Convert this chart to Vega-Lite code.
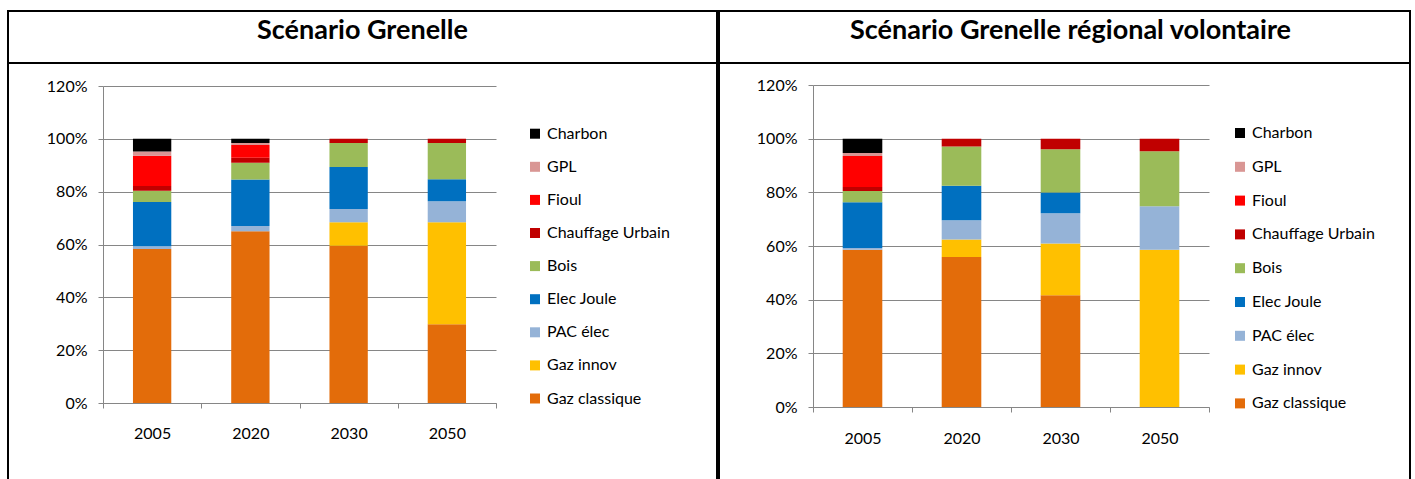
{
  "$schema": "https://vega.github.io/schema/vega-lite/v6.json",
  "padding": {"left": 7, "top": 10, "right": 0, "bottom": 0},
  "background": "white",
  "datasets": {
    "grenelle": [
      {"annee": "2005", "energie": "Gaz classique", "ordre": 1, "part": 58.3},
      {"annee": "2005", "energie": "PAC élec", "ordre": 3, "part": 1.0},
      {"annee": "2005", "energie": "Elec Joule", "ordre": 4, "part": 16.8},
      {"annee": "2005", "energie": "Bois", "ordre": 5, "part": 4.2},
      {"annee": "2005", "energie": "Chauffage Urbain", "ordre": 6, "part": 1.8},
      {"annee": "2005", "energie": "Fioul", "ordre": 7, "part": 11.5},
      {"annee": "2005", "energie": "GPL", "ordre": 8, "part": 1.6},
      {"annee": "2005", "energie": "Charbon", "ordre": 9, "part": 4.8},
      {"annee": "2020", "energie": "Gaz classique", "ordre": 1, "part": 65.0},
      {"annee": "2020", "energie": "PAC élec", "ordre": 3, "part": 2.0},
      {"annee": "2020", "energie": "Elec Joule", "ordre": 4, "part": 17.6},
      {"annee": "2020", "energie": "Bois", "ordre": 5, "part": 6.3},
      {"annee": "2020", "energie": "Chauffage Urbain", "ordre": 6, "part": 1.9},
      {"annee": "2020", "energie": "Fioul", "ordre": 7, "part": 4.9},
      {"annee": "2020", "energie": "GPL", "ordre": 8, "part": 0.7},
      {"annee": "2020", "energie": "Charbon", "ordre": 9, "part": 1.6},
      {"annee": "2030", "energie": "Gaz classique", "ordre": 1, "part": 59.5},
      {"annee": "2030", "energie": "Gaz innov", "ordre": 2, "part": 8.9},
      {"annee": "2030", "energie": "PAC élec", "ordre": 3, "part": 5.0},
      {"annee": "2030", "energie": "Elec Joule", "ordre": 4, "part": 15.9},
      {"annee": "2030", "energie": "Bois", "ordre": 5, "part": 9.1},
      {"annee": "2030", "energie": "Chauffage Urbain", "ordre": 6, "part": 1.6},
      {"annee": "2050", "energie": "Gaz classique", "ordre": 1, "part": 29.8},
      {"annee": "2050", "energie": "Gaz innov", "ordre": 2, "part": 38.6},
      {"annee": "2050", "energie": "PAC élec", "ordre": 3, "part": 8.0},
      {"annee": "2050", "energie": "Elec Joule", "ordre": 4, "part": 8.3},
      {"annee": "2050", "energie": "Bois", "ordre": 5, "part": 13.7},
      {"annee": "2050", "energie": "Chauffage Urbain", "ordre": 6, "part": 1.6}
    ],
    "regional": [
      {"annee": "2005", "energie": "Gaz classique", "ordre": 1, "part": 58.6},
      {"annee": "2005", "energie": "PAC élec", "ordre": 3, "part": 0.7},
      {"annee": "2005", "energie": "Elec Joule", "ordre": 4, "part": 17.0},
      {"annee": "2005", "energie": "Bois", "ordre": 5, "part": 4.2},
      {"annee": "2005", "energie": "Chauffage Urbain", "ordre": 6, "part": 1.5},
      {"annee": "2005", "energie": "Fioul", "ordre": 7, "part": 11.5},
      {"annee": "2005", "energie": "GPL", "ordre": 8, "part": 1.2},
      {"annee": "2005", "energie": "Charbon", "ordre": 9, "part": 5.3},
      {"annee": "2020", "energie": "Gaz classique", "ordre": 1, "part": 55.9},
      {"annee": "2020", "energie": "Gaz innov", "ordre": 2, "part": 6.5},
      {"annee": "2020", "energie": "PAC élec", "ordre": 3, "part": 7.2},
      {"annee": "2020", "energie": "Elec Joule", "ordre": 4, "part": 12.9},
      {"annee": "2020", "energie": "Bois", "ordre": 5, "part": 14.6},
      {"annee": "2020", "energie": "Chauffage Urbain", "ordre": 6, "part": 2.9},
      {"annee": "2030", "energie": "Gaz classique", "ordre": 1, "part": 41.6},
      {"annee": "2030", "energie": "Gaz innov", "ordre": 2, "part": 19.3},
      {"annee": "2030", "energie": "PAC élec", "ordre": 3, "part": 11.3},
      {"annee": "2030", "energie": "Elec Joule", "ordre": 4, "part": 7.7},
      {"annee": "2030", "energie": "Bois", "ordre": 5, "part": 16.2},
      {"annee": "2030", "energie": "Chauffage Urbain", "ordre": 6, "part": 3.9},
      {"annee": "2050", "energie": "Gaz innov", "ordre": 2, "part": 58.6},
      {"annee": "2050", "energie": "PAC élec", "ordre": 3, "part": 16.2},
      {"annee": "2050", "energie": "Bois", "ordre": 5, "part": 20.5},
      {"annee": "2050", "energie": "Chauffage Urbain", "ordre": 6, "part": 4.7}
    ],
    "titres": [
      {"colonne": "gauche", "titre": "Scénario Grenelle"},
      {"colonne": "droite", "titre": "Scénario Grenelle régional volontaire"}
    ]
  },
  "hconcat": [
    {
      "spacing": 0,
      "bounds": "flush",
      "vconcat": [
        {
          "width": 709, "height": 52,
          "view": {"stroke": "black", "strokeWidth": 2},
          "data": {"name": "titres"},
          "transform": [{"filter": "datum.colonne === 'gauche'"}],
          "mark": {"type": "text", "font": "Lato", "fontWeight": "bold", "fontSize": 27, "baseline": "alphabetic", "dy": 2, "color": "black"},
          "encoding": {
            "x": {"field": "titre", "type": "nominal", "axis": null},
            "text": {"field": "titre", "type": "nominal"}
          }
        },
        {
          "width": 709, "height": 420,
          "data": {"name": "grenelle"},
          "mark": {"type": "bar", "width": {"band": 0.39}},
          "encoding": {
            "x": {"field": "annee", "type": "nominal", "sort": null,
              "scale": {"range": [95, 488], "paddingInner": 0, "paddingOuter": 0},
              "axis": {"orient": "bottom", "offset": -80, "title": null, "labelAngle": 0, "tickBand": "extent", "grid": false, "labelPadding": 17}},
            "y": {"field": "part", "type": "quantitative", "stack": "zero",
              "scale": {"domain": [0, 120], "range": [340, 23], "nice": false},
              "axis": {"orient": "left", "offset": -95, "values": [0, 20, 40, 60, 80, 100, 120], "labelExpr": "datum.value + '%'", "title": null, "grid": true, "labelPadding": 11}},
            "color": {"field": "energie", "type": "nominal",
              "scale": {"domain": ["Charbon", "GPL", "Fioul", "Chauffage Urbain", "Bois", "Elec Joule", "PAC élec", "Gaz innov", "Gaz classique"],
                "range": ["#000000", "#D99694", "#FF0000", "#C00000", "#9BBB59", "#0070C0", "#95B3D7", "#FFC000", "#E36C0A"]},
              "legend": {"title": null, "orient": "none", "legendX": 519, "legendY": 114.7, "rowPadding": 17.1}},
            "order": {"field": "ordre", "type": "quantitative", "sort": "ascending"}
          }
        }
      ]
    },
    {
      "spacing": 0,
      "bounds": "flush",
      "vconcat": [
        {
          "width": 691, "height": 52,
          "view": {"stroke": "black", "strokeWidth": 2},
          "data": {"name": "titres"},
          "transform": [{"filter": "datum.colonne === 'droite'"}],
          "mark": {"type": "text", "font": "Lato", "fontWeight": "bold", "fontSize": 27, "baseline": "alphabetic", "dy": 2, "dx": 6, "color": "black"},
          "encoding": {
            "x": {"field": "titre", "type": "nominal", "axis": null},
            "text": {"field": "titre", "type": "nominal"}
          }
        },
        {
          "width": 691, "height": 420,
          "data": {"name": "regional"},
          "mark": {"type": "bar", "width": {"band": 0.4}},
          "encoding": {
            "x": {"field": "annee", "type": "nominal", "sort": null,
              "scale": {"range": [94, 490], "paddingInner": 0, "paddingOuter": 0},
              "axis": {"orient": "bottom", "offset": -76, "title": null, "labelAngle": 0, "tickBand": "extent", "grid": false, "labelPadding": 18}},
            "y": {"field": "part", "type": "quantitative", "stack": "zero",
              "scale": {"domain": [0, 120], "range": [344, 22], "nice": false},
              "axis": {"orient": "left", "offset": -94, "values": [0, 20, 40, 60, 80, 100, 120], "labelExpr": "datum.value + '%'", "title": null, "grid": true, "labelPadding": 11}},
            "color": {"field": "energie", "type": "nominal",
              "scale": {"domain": ["Charbon", "GPL", "Fioul", "Chauffage Urbain", "Bois", "Elec Joule", "PAC élec", "Gaz innov", "Gaz classique"],
                "range": ["#000000", "#D99694", "#FF0000", "#C00000", "#9BBB59", "#0070C0", "#95B3D7", "#FFC000", "#E36C0A"]},
              "legend": {"title": null, "orient": "none", "legendX": 513, "legendY": 114, "rowPadding": 17.8}},
            "order": {"field": "ordre", "type": "quantitative", "sort": "ascending"}
          }
        }
      ]
    }
  ],
  "spacing": 0,
  "resolve": {"scale": {"color": "independent"}},
  "config": {
    "view": {"stroke": "black", "strokeWidth": 2},
    "concat": {"spacing": 0},
    "axis": {
      "labelFont": "Lato", "labelFontSize": 16, "labelColor": "#000000",
      "domainColor": "#868686", "tickColor": "#868686", "gridColor": "#868686",
      "tickSize": 5, "domainWidth": 1, "gridWidth": 1
    },
    "legend": {
      "labelFont": "Lato", "labelFontSize": 16, "labelColor": "#000000",
      "symbolType": "square", "symbolSize": 100, "symbolStrokeWidth": 0,
      "rowPadding": 17, "labelOffset": 4, "padding": 0, "labelLimit": 300
    }
  }
}
